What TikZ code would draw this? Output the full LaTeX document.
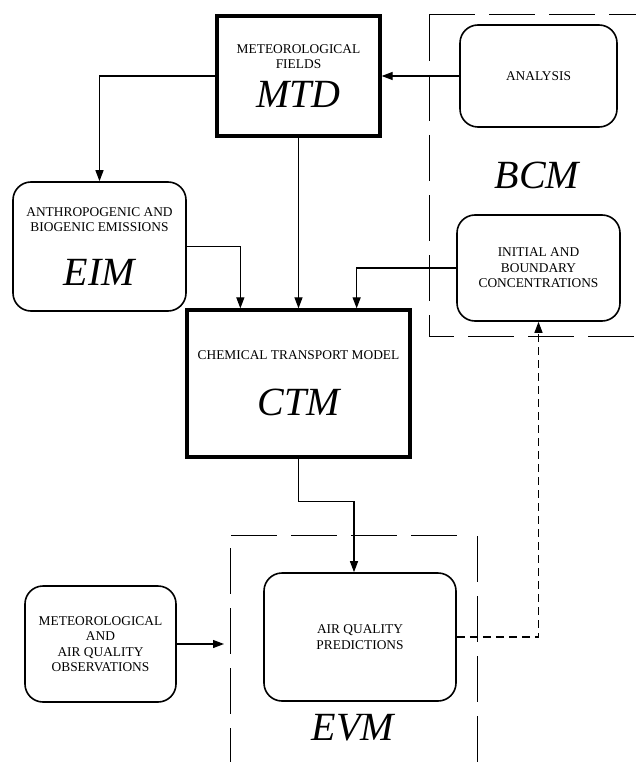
\documentclass[tikz,border=0pt]{standalone}
\usepackage{fontspec}
\setmainfont{Liberation Serif}
\usetikzlibrary{arrows.meta}

\newcommand{\acr}[1]{{\fontsize{40}{40}\selectfont\itshape #1}}

\begin{document}
\begin{tikzpicture}[x=1pt,y=-1pt,
    every node/.style={font=\fontsize{13.4}{15.5}\selectfont, align=center},
    model/.style={draw, line width=3.3pt, inner sep=0pt},
    block/.style={draw, line width=1.6pt, rounded corners=18pt, inner sep=0pt},
    flow/.style={line width=1.2pt, -{Triangle[length=11pt,width=8pt]}},
    frame/.style={line width=1pt, dash pattern=on 46pt off 14pt}]

    \useasboundingbox (0,0) rectangle (636,762);

    % model boxes
    \node[model, minimum width=163pt, minimum height=120pt] (mtd) at (298.5,76) {METEOROLOGICAL\\FIELDS\\[11pt]\acr{MTD}};
    \node[model, minimum width=223pt, minimum height=147pt] (ctm) at (298.5,383.5) {CHEMICAL TRANSPORT MODEL\\[28pt]\acr{CTM}};

    \node[block, minimum width=173pt, minimum height=129pt] (eim) at (99.5,246.5) {ANTHROPOGENIC AND\\BIOGENIC EMISSIONS\\[27pt]\acr{EIM}};
    \node[block, minimum width=157pt, minimum height=102pt] (analysis) at (538.5,76) {ANALYSIS};
    \node[block, minimum width=163pt, minimum height=106pt] (ibc) at (538.5,268) {INITIAL AND\\BOUNDARY\\CONCENTRATIONS};
    \node[block, minimum width=192pt, minimum height=128pt] (aqp) at (360,637) {AIR QUALITY\\PREDICTIONS};
    \node[block, minimum width=151pt, minimum height=116pt] (obs) at (100.5,644) {METEOROLOGICAL\\AND\\AIR QUALITY\\OBSERVATIONS};

    % dashed frames
    \draw[frame] (429,15) -- (640,15);
    \draw[frame] (429,15) -- (429,336) -- (640,336);
    \node (bcm) at (537,175) {\acr{BCM}};

    \draw[frame] (231,535) -- (463,535);
    \draw[frame] (230,548) -- (230,770);
    \draw[frame] (477,536) -- (477,770);
    \node (evm) at (353,728) {\acr{EVM}};

    % connectors
    \draw[flow] (analysis) -- (mtd);
    \draw[flow] (mtd.west) -| (eim.north);
    \draw[flow] (mtd) -- (ctm);
    \draw[flow] (eim.east) -| ([xshift=55pt]ctm.north west);
    \draw[flow] (ibc.west) -| ([xshift=-55pt]ctm.north east);
    \draw[flow] (ctm.south) -- ++(0,43) -| ([xshift=-6pt]aqp.north);

    \coordinate (evmin) at (224,644);
    \draw[flow] (obs.east) -- (evmin);

    \draw[flow, dash pattern=on 8pt off 5pt] (aqp.east) -| (ibc.south);

\end{tikzpicture}
\end{document}
